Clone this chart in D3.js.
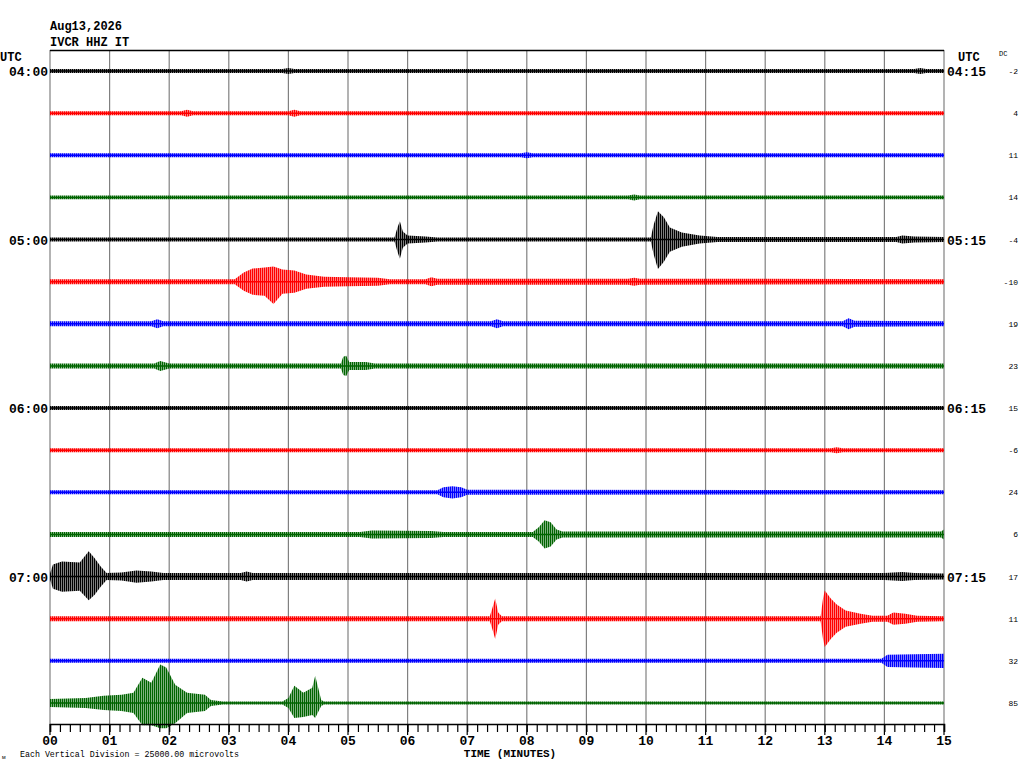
<!DOCTYPE html>
<html>
<head>
<meta charset="utf-8">
<script src="https://cdn.jsdelivr.net/npm/d3@7"></script>
<style>
  body { margin: 0; background: #fff; }
  text { font-family: "Liberation Mono", "DejaVu Sans Mono", monospace; }
</style>
</head>
<body>
<script>
// Helicorder: 16 rows of 15 minutes each, IVCR HHZ IT
const stationDate = "Aug13,2026";
const stationName = "IVCR HHZ IT";
const minuteLabels = ["00","01","02","03","04","05","06","07","08","09","10","11","12","13","14","15"];
const labelRows = [0, 4, 8, 12];
const leftTimes = ["04:00", "05:00", "06:00", "07:00"];
const rightTimes = ["04:15", "05:15", "06:15", "07:15"];
const dcValues = [-2, 4, 11, 14, -4, -10, 19, 23, 15, -6, 24, 6, 17, 11, 32, 85];
const traceColors = ["#000000", "#ff0000", "#0000ff", "#006400"];

// Envelope of each trace: [minute, amplitude up (mV), amplitude down (mV, optional)]
const t00 = [[0,1.2],[3.9,1.2],[4.0,1.8],[4.1,1.2],[14.5,1.2],[14.6,1.8],[14.7,1.2],[15,1.2]];
const t01 = [[0,1.2],[2.2,1.2],[2.3,2.1],[2.4,1.2],[4.0,1.2],[4.1,2.1],[4.2,1.2],[15,1.2]];
const t02 = [[0,1.2],[7.9,1.2],[8.0,1.8],[8.1,1.2],[15,1.2]];
const t03 = [[0,1.1],[9.7,1.1],[9.8,1.8],[9.9,1.1],[15,1.1]];
const t04 = [[0,1.2],[5.78,1.2],[5.83,7.2],[5.87,10.8,11.4],[5.92,4.8],[6.0,2.4],[6.3,1.8],[6.5,1.2],
             [10.08,1.2],[10.13,9],[10.2,16.8,17.4],[10.3,13.2],[10.4,7.2],[10.6,4.2],[10.9,2.4],[11.2,1.5],
             [14.2,1.5],[14.3,2.4],[14.5,1.8],[15,1.5]];
const t05 = [[0,1.5],[3.1,1.5],[3.25,5.4],[3.4,7.8],[3.6,8.4],[3.75,9,13.2],[3.9,7.2],[4.1,6.6],[4.3,4.2],
             [4.6,3],[5.0,2.7],[5.5,2.4],[5.7,1.5],[6.3,1.5],[6.4,2.7],[6.5,1.8],[9.7,1.8],[9.8,2.4],[9.9,1.8],[15,1.5]];
const t06 = [[0,1.5],[1.7,1.5],[1.8,2.7],[1.9,1.5],[7.4,1.5],[7.5,2.7],[7.6,1.5],[13.3,1.5],[13.4,3.3],[13.5,1.8],[15,1.5]];
const t07 = [[0,1.5],[1.75,1.5],[1.85,3],[2.0,1.5],[4.88,1.5],[4.92,5.4],[4.97,6],[5.02,2.4],[5.3,2.4],[5.45,1.5],[15,1.5]];
const t08 = [[0,1.2],[15,1.2]];
const t09 = [[0,1.2],[13.1,1.2],[13.2,1.8],[13.3,1.2],[15,1.2]];
const t10 = [[0,1.2],[6.5,1.2],[6.6,3],[6.75,3.6],[6.9,3],[7.0,1.5],[15,1.2]];
const t11 = [[0,1.5],[5.2,1.5],[5.4,2.4],[6.4,2.1],[6.6,1.5],[8.1,1.5],[8.2,4.2],[8.3,8.4],[8.4,7.2],[8.5,3],
             [8.6,1.8],[14.95,1.8],[15,3]];
const t12 = [[0,1.8],[0.05,7.2],[0.2,9],[0.5,8.4],[0.65,15,14],[0.75,10.8],[0.85,6],[0.95,2.1],[1.2,2.4],[1.45,3.6],
             [1.7,3],[1.9,2.1],[3.2,2.1],[3.3,3],[3.4,2.1],[14.0,2.1],[14.3,2.7],[14.5,2.1],[15,1.8]];
const t13 = [[0,1.5],[7.38,1.5],[7.42,6],[7.47,12],[7.52,3.6],[7.58,1.5],[12.93,1.5],[12.97,12],[13.0,16.8],
             [13.1,12],[13.2,8.4],[13.35,4.8],[13.6,3],[13.8,1.8],[14.05,1.8],[14.15,3.6],[14.35,3],[14.55,1.8],[15,1.5]];
const t14 = [[0,1.2],[13.95,1.2],[14.05,3.6],[14.5,3.9],[15,4.2]];
const t15 = [[0,2.4],[0.6,3],[0.9,4.2],[1.2,4.8],[1.4,6],[1.55,15,13.2],[1.7,12,13.2],[1.85,22.8,15],[1.95,21,15],
             [2.1,10.8,12],[2.3,6],[2.6,4.8],[2.7,1.8],[2.9,0.9],[3.9,0.9],[4.0,3],[4.1,10.2,9],[4.25,6,8.4],
             [4.4,9,7.2],[4.45,16.2,9],[4.55,1.8],[4.6,0.9],[15,0.9]];
const traces = [t00,t01,t02,t03,t04,t05,t06,t07,t08,t09,t10,t11,t12,t13,t14,t15];

const svg = d3.select("body").append("svg")
  .attr("width", 1024)
  .attr("height", 768);

const plotLeft = 50, plotRight = 944, plotTop = 50, plotBottom = 724;

const x = d3.scaleLinear().domain([0, 15]).range([plotLeft, plotRight]);
const row = d3.scaleLinear().domain([0, traces.length]).range([plotTop, plotBottom]);
const rowH = row(1) - row(0);
const amp = d3.scaleLinear().domain([0, 25]).range([0, rowH]); // 25000 microvolts per division

// vertical hatch so the envelopes read as dense wiggles
const defs = svg.append("defs");
traceColors.forEach((c, k) => {
  const p = defs.append("pattern")
    .attr("id", "hatch" + k)
    .attr("patternUnits", "userSpaceOnUse")
    .attr("width", 2).attr("height", 10);
  p.append("rect").attr("width", 1.5).attr("height", 10).attr("fill", c);
});

// header
svg.append("text").attr("x", 50).attr("y", 30).attr("font-size", 12).attr("font-weight", "bold").text(stationDate);
svg.append("text").attr("x", 50).attr("y", 46).attr("font-size", 12).attr("font-weight", "bold").text(stationName);
svg.append("text").attr("x", 0).attr("y", 61).attr("font-size", 12).attr("font-weight", "bold").text("UTC");
svg.append("text").attr("x", 958).attr("y", 61).attr("font-size", 12).attr("font-weight", "bold").text("UTC");
svg.append("text").attr("x", 999).attr("y", 56).attr("font-size", 7).text("DC");

// minute grid
svg.append("g").selectAll("line")
  .data(d3.range(0, 16))
  .join("line")
    .attr("x1", d => x(d)).attr("x2", d => x(d))
    .attr("y1", plotTop).attr("y2", plotBottom)
    .attr("stroke", "#808080")
    .attr("stroke-width", 1.2);

svg.append("line")
  .attr("x1", plotLeft).attr("x2", plotRight).attr("y1", plotTop + 0.5).attr("y2", plotTop + 0.5)
  .attr("stroke", "#000").attr("stroke-width", 1.5);

// traces
const band = d3.area()
  .x(d => x(d[0]))
  .curve(d3.curveLinear);

traces.forEach((env, i) => {
  const yc = row(i + 0.5);
  const k = i % traceColors.length;
  const col = traceColors[k];
  svg.append("path")
    .datum(env)
    .attr("fill", `url(#hatch${k})`)
    .attr("d", band.y0(d => yc + amp(d.length > 2 ? d[2] : d[1])).y1(d => yc - amp(d[1])));
  svg.append("line")
    .attr("x1", x(0)).attr("x2", x(15)).attr("y1", yc).attr("y2", yc)
    .attr("stroke", col).attr("stroke-width", 1.6);
});

// time labels
labelRows.forEach((r, k) => {
  const yc = row(r + 0.5);
  svg.append("text").attr("x", 48).attr("y", yc + 5).attr("text-anchor", "end")
    .attr("font-size", 13).attr("font-weight", "bold").text(leftTimes[k]);
  svg.append("text").attr("x", 947).attr("y", yc + 5)
    .attr("font-size", 13).attr("font-weight", "bold").text(rightTimes[k]);
});

svg.append("g").selectAll("text")
  .data(dcValues)
  .join("text")
    .attr("x", 1018)
    .attr("y", (d, i) => row(i + 0.5) + 3)
    .attr("text-anchor", "end")
    .attr("font-size", 8)
    .text(d => d);

// time axis with 10 second ticks
const axis = d3.axisBottom(x)
  .tickValues(d3.range(0, 91).map(d => d / 6))
  .tickSize(8)
  .tickFormat("");
const ax = svg.append("g")
  .attr("transform", `translate(0,${plotBottom})`)
  .call(axis);
ax.select(".domain").attr("stroke", "#000").attr("stroke-width", 1.5);
ax.selectAll(".tick line").attr("stroke", "#000").attr("stroke-width", 1.2);

svg.append("g").selectAll("line")
  .data(d3.range(0, 16))
  .join("line")
    .attr("x1", d => x(d)).attr("x2", d => x(d))
    .attr("y1", plotBottom).attr("y2", plotBottom + 11)
    .attr("stroke", "#000").attr("stroke-width", 1.2);

svg.append("g").selectAll("text")
  .data(minuteLabels)
  .join("text")
    .attr("x", (d, i) => x(i))
    .attr("y", 745)
    .attr("text-anchor", "middle")
    .attr("font-size", 13)
    .attr("font-weight", "bold")
    .text(d => d);

svg.append("text").attr("x", 510).attr("y", 757).attr("text-anchor", "middle")
  .attr("font-size", 11).attr("font-weight", "bold").text("TIME (MINUTES)");
svg.append("text").attr("x", 20).attr("y", 757)
  .attr("font-size", 8.3).text("Each Vertical Division = 25000.00 microvolts");
svg.append("text").attr("x", 2).attr("y", 759).attr("font-size", 6).text("м");
</script>
</body>
</html>
